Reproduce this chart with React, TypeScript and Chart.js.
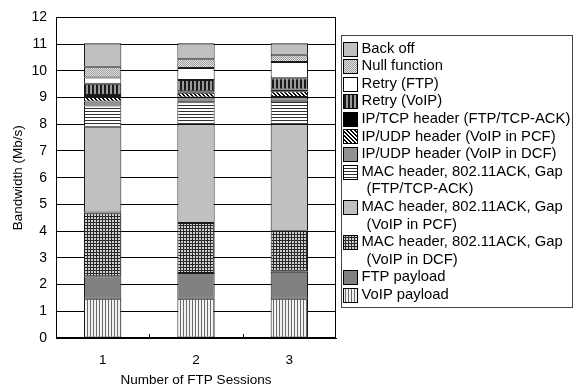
import React, { useEffect, useRef } from 'react';
import { Chart, registerables } from 'chart.js';

Chart.register(...registerables);

// ---------- data ----------
const sessions = ['1', '2', '3'];
const voipPayload = [1.47, 1.47, 1.47];
const ftpPayload = [0.84, 0.96, 1.01];
const macDcf = [2.39, 1.87, 1.53];
const macPcf = [3.21, 3.70, 3.99];
const macFtp = [0.79, 0.82, 0.88];
const udpDcf = [0.15, 0.18, 0.14];
const udpPcf = [0.17, 0.18, 0.22];
const tcpHeader = [0.08, 0.06, 0.06];
const retryVoip = [0.42, 0.42, 0.42];
const retryFtp = [0.23, 0.45, 0.61];
const nullFunc = [0.40, 0.32, 0.27];
const backOff = [0.88, 0.60, 0.43];

const seriesLabels = [
  'VoIP payload',
  'FTP payload',
  'MAC header, 802.11ACK, Gap\n(VoIP in DCF)',
  'MAC header, 802.11ACK, Gap\n(VoIP in PCF)',
  'MAC header, 802.11ACK, Gap\n(FTP/TCP-ACK)',
  'IP/UDP header (VoIP in DCF)',
  'IP/UDP header (VoIP in PCF)',
  'IP/TCP header (FTP/TCP-ACK)',
  'Retry (VoIP)',
  'Retry (FTP)',
  'Null function',
  'Back off',
];
const seriesValues = [voipPayload, ftpPayload, macDcf, macPcf, macFtp, udpDcf, udpPcf, tcpHeader, retryVoip, retryFtp, nullFunc, backOff];

const FONT = '"Liberation Sans", Arial, Helvetica, sans-serif';

function makePattern(w: number, h: number, draw: (c: CanvasRenderingContext2D) => void): CanvasPattern | string {
  const cv = document.createElement('canvas');
  cv.width = w;
  cv.height = h;
  const c = cv.getContext('2d')!;
  draw(c);
  return c.createPattern(cv, 'repeat') || '#ccc';
}

function buildFills(): (CanvasPattern | string)[] {
  const vLines = makePattern(3, 1, (c) => {
    c.fillStyle = '#f2f2f2'; c.fillRect(0, 0, 3, 1);
    c.fillStyle = '#6a6a6a'; c.fillRect(0, 0, 1, 1);
  });
  const grid = makePattern(3, 3, (c) => {
    c.fillStyle = '#d0d0d0'; c.fillRect(0, 0, 3, 3);
    c.fillStyle = '#2a2a2a'; c.fillRect(0, 0, 3, 1); c.fillRect(0, 0, 1, 3);
  });
  const hLines = makePattern(1, 3, (c) => {
    c.fillStyle = '#ffffff'; c.fillRect(0, 0, 1, 3);
    c.fillStyle = '#303030'; c.fillRect(0, 0, 1, 1);
  });
  const diag = makePattern(4, 4, (c) => {
    c.fillStyle = '#ffffff'; c.fillRect(0, 0, 4, 4);
    c.fillStyle = '#000000';
    for (let i = 0; i < 4; i++) {
      c.fillRect(i, i, 1, 1);
      c.fillRect((i + 1) % 4, i, 1, 1);
    }
  });
  const thickV = makePattern(4, 1, (c) => {
    c.fillStyle = '#9a9a9a'; c.fillRect(0, 0, 4, 1);
    c.fillStyle = '#1a1a1a'; c.fillRect(0, 0, 2, 1);
  });
  const stipple = makePattern(2, 2, (c) => {
    c.fillStyle = '#e4e4e4'; c.fillRect(0, 0, 2, 2);
    c.fillStyle = '#9c9c9c'; c.fillRect(0, 0, 1, 1); c.fillRect(1, 1, 1, 1);
  });
  return [vLines, '#808080', grid, '#c0c0c0', hLines, '#929292', diag, '#000000', thickV, '#ffffff', stipple, '#c0c0c0'];
}

const framePlugin = {
  id: 'frameAndLegend',
  afterDraw(chart: any) {
    const { ctx, chartArea: a } = chart;
    ctx.save();
    // plot frame
    ctx.strokeStyle = '#000';
    ctx.lineWidth = 1;
    ctx.strokeRect(Math.round(a.left) + 0.5, Math.round(a.top) + 0.5, Math.round(a.width) - 1, Math.round(a.height) - 1);
    // category separators (small ticks)
    const n = chart.data.labels.length;
    for (let i = 1; i < n; i++) {
      const x = Math.round(a.left + (i * a.width) / n) + 0.5;
      ctx.beginPath();
      ctx.moveTo(x, a.bottom);
      ctx.lineTo(x, a.bottom - 4);
      ctx.stroke();
    }
    // legend
    const bx = Math.round(a.right) + 5.5;
    const by = 35.5;
    const bw = 231;
    const bh = 272;
    ctx.fillStyle = '#fff';
    ctx.fillRect(bx, by, bw, bh);
    ctx.strokeStyle = '#444';
    ctx.strokeRect(bx, by, bw, bh);
    ctx.font = `14.8px ${FONT}`;
    ctx.textBaseline = 'middle';
    ctx.textAlign = 'left';
    const step = 17.6;
    let y = 48.5;
    const ds = chart.data.datasets.slice().reverse();
    for (const d of ds) {
      const lines = String(d.label).split('\n');
      ctx.fillStyle = d.backgroundColor;
      ctx.fillRect(bx + 2, Math.round(y - 7) + 0.5, 14, 14);
      ctx.strokeStyle = '#000';
      ctx.strokeRect(bx + 2, Math.round(y - 7) + 0.5, 14, 14);
      ctx.fillStyle = '#000';
      lines.forEach((ln, i) => {
        ctx.fillText(ln, bx + (i === 0 ? 20 : 25), y + i * step);
      });
      y += step * lines.length;
    }
    ctx.restore();
  },
};

export default function App() {
  const ref = useRef<HTMLCanvasElement>(null);
  useEffect(() => {
    document.body.style.margin = '0';
    const fills = buildFills();
    const chart = new Chart(ref.current!, {
      type: 'bar',
      data: {
        labels: sessions,
        datasets: seriesValues.map((vals, i) => ({
          label: seriesLabels[i],
          data: vals,
          backgroundColor: fills[i] as any,
          borderColor: '#1a1a1a',
          borderWidth: 1,
          borderSkipped: false,
          categoryPercentage: 1,
          barPercentage: 0.4,
        })),
      },
      options: {
        responsive: false,
        animation: false,
        layout: { padding: { top: 7, right: 239, left: 0, bottom: 0 } },
        plugins: { legend: { display: false }, tooltip: { enabled: false } },
        scales: {
          x: {
            stacked: true,
            grid: { display: false },
            border: { display: true, color: '#000' },
            ticks: { color: '#000', font: { family: FONT, size: 13.5 }, padding: 6 },
            title: { display: true, text: 'Number of FTP Sessions', color: '#000', font: { family: FONT, size: 13.5 }, padding: { top: 0, bottom: 1 } },
            afterFit: (s: any) => { s.height = 51; },
          },
          y: {
            stacked: true,
            min: 0,
            max: 12,
            ticks: { stepSize: 1, color: '#000', font: { family: FONT, size: 14 }, padding: 9 },
            grid: { color: '#000', drawTicks: false, lineWidth: 1 },
            border: { display: true, color: '#000' },
            title: { display: true, text: 'Bandwidth (Mb/s)', color: '#000', font: { family: FONT, size: 13.5 }, padding: { top: 10, bottom: 0 } },
            afterFit: (s: any) => { s.width = 56; },
          },
        },
      },
      plugins: [framePlugin],
    });
    return () => chart.destroy();
  }, []);
  return (
    <div style={{ width: 575, height: 389 }}>
      <canvas ref={ref} width={575} height={389} />
    </div>
  );
}
